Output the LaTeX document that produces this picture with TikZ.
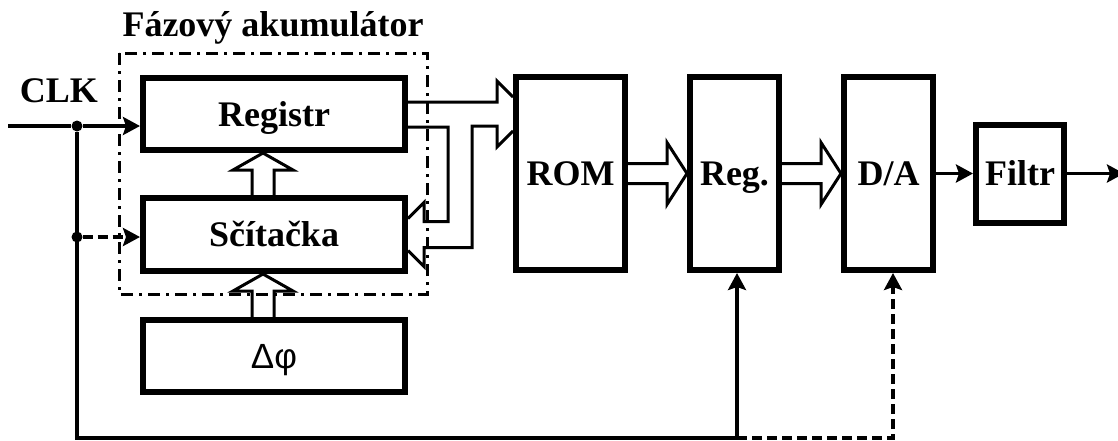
\documentclass[tikz,border=0pt]{standalone}
\usepackage{fontspec}
\setmainfont{Liberation Serif}
\newfontfamily\symfont{Liberation Sans}
\usetikzlibrary{arrows.meta, calc}

\begin{document}
\begin{tikzpicture}[x=1pt, y=-1pt,
    blok/.style={draw, line width=6pt, inner sep=0pt, text height=24pt, text depth=0pt,
        font=\fontsize{36}{40}\selectfont\bfseries},
    popis/.style={font=\fontsize{36}{40}\selectfont\bfseries},
    bus/.style={line width=3pt, line join=miter},
    sig/.style={line width=4.5pt},
    tenky/.style={line width=3.5pt},
    hrot/.style={-{Stealth[length=17pt, width=18pt, inset=3pt]}},
    prerus/.style={dash pattern=on 10pt off 5pt},
    ramec/.style={line width=3pt, dash pattern=on 12pt off 6pt on 3pt off 6pt},
    bod/.style={circle, fill, inner sep=0pt, minimum size=11pt}]
        \useasboundingbox (0,0) rectangle (1118,440);
        % Bloky
        \node[blok, minimum width=262pt, minimum height=72pt] (reg) at (274,114) {Registr};
        \node[blok, minimum width=262pt, minimum height=73pt] (add) at (274,234.5) {Sčítačka};
        \node[blok, minimum width=262pt, minimum height=72pt, font=\symfont\fontsize{35}{38}\selectfont] (phi) at (274,356) {Δφ};
        \node[blok, minimum width=109pt, minimum height=193pt] (rom) at (570.5,173.5) {ROM};
        \node[blok, minimum width=89pt, minimum height=193pt] (regb) at (734.5,173.5) {Reg.};
        \node[blok, minimum width=89pt, minimum height=193pt] (dac) at (888.5,173.5) {D/A};
        \node[blok, minimum width=88pt, minimum height=98pt] (filt) at (1020,173.5) {Filtr};

        % Fazovy akumulator
        \draw[ramec] (119,53) rectangle (427,294);
        \node[popis] (akum) at (273,28) {Fázový akumulátor};
        \node[popis] (clk) at (59,91) {CLK};

        % Hodiny
        \coordinate (vstup) at (8,126);
        \node[bod] (j1) at (77,126) {};
        \node[bod] (j2) at (77,237) {};
        \coordinate (dole) at (737,438);
        \coordinate (dole2) at (893,438);
        \draw[sig] (vstup) -- (j1);
        \draw[sig, hrot] (j1) -- (j1 -| reg.west);
        \draw[sig, prerus, hrot] (j2) -- (j2 -| add.west);
        \draw[tenky] (j1) |- (dole);
        \draw[tenky, hrot] (dole) -- (dole |- regb.south);
        \draw[tenky, prerus, hrot] (dole) -- (dole2) -- (dole2 |- dac.south);

        % Sbernice nahoru
        \foreach \z/\k in {phi/add, add/reg}
            \draw[bus] ($(\z.north)+(-22,0)$) -- ($(\k.south)+(-22,17)$) -- ($(\k.south)+(-41,17)$)
                -- ($(\k.south)+(-11,0)$) -- ($(\k.south)+(19,17)$) -- ($(\k.south)+(0,17)$) -- (\z.north);

        % Sbernice doprava
        \foreach \z/\k in {rom/regb, regb/dac}
            \draw[bus] ($(\z.east)+(0,-10)$) -- ($(\k.west)+(-20,-10)$) -- ($(\k.west)+(-20,-31)$)
                -- (\k.west) -- ($(\k.west)+(-20,31)$) -- ($(\k.west)+(-20,10)$) -- ($(\z.east)+(0,10)$);

        % Vystup registru do ROM a zpet do scitacky
        \coordinate (rb) at (reg.east -| rom.west);
        \draw[bus] ($(reg.east)+(0,-12)$) -- ($(rb)+(-16,-12)$) -- ($(rb)+(-16,-33)$) -- ($(rb)+(0,-17)$)
            ($(rb)+(0,17)$) -- ($(rb)+(-16,33)$) -- ($(rb)+(-16,12)$) -- ($(rb)+(-41,12)$)
            |- ($(add.east)+(16,13)$) -- ($(add.east)+(16,32)$) -- ($(add.east)+(0,16)$)
            ($(add.east)+(0,-16)$) -- ($(add.east)+(16,-32)$) -- ($(add.east)+(16,-13)$)
            -| ($(reg.east)+(40,13)$) -- ($(reg.east)+(0,13)$);

        % Vystup
        \coordinate (vystup) at (1124,173.5);
        \draw[tenky, hrot] (dac.east) -- (filt.west);
        \draw[tenky, hrot] (filt.east) -- (vystup);
\end{tikzpicture}
\end{document}
